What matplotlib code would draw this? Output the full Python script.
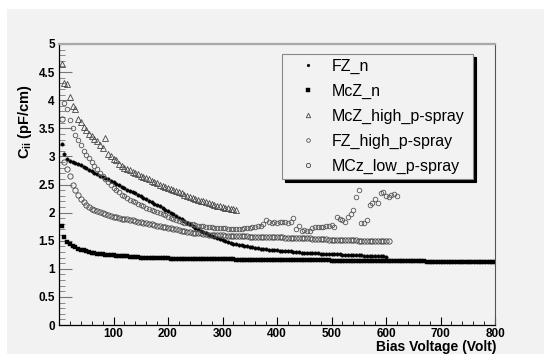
import numpy as np
import matplotlib.pyplot as plt
from matplotlib.patches import Rectangle
from matplotlib.ticker import MultipleLocator, FixedLocator, FormatStrFormatter

plt.rcParams['font.family'] = ['Liberation Sans', 'DejaVu Sans']
plt.rcParams['mathtext.fontset'] = 'custom'
plt.rcParams['mathtext.rm'] = 'Liberation Sans:bold'
plt.rcParams['mathtext.bf'] = 'Liberation Sans:bold'

# bias voltage sweeps (V)
v_fz_n = np.arange(5, 605, 5)
v_mcz_n = np.arange(5, 805, 5)
v_mcz_high = np.arange(5, 330, 5)
v_fz_high = np.arange(10, 625, 5)
v_mcz_low = np.arange(5, 610, 5)

# interstrip capacitance (pF/cm)
c_fz_n = [3.22, 3.05, 2.96, 2.92, 2.90, 2.88, 2.86, 2.84, 2.81, 2.79,
          2.76, 2.74, 2.71, 2.69, 2.66, 2.64, 2.61, 2.59, 2.56, 2.54,
          2.51, 2.49, 2.46, 2.44, 2.41, 2.39, 2.36, 2.34, 2.31, 2.29,
          2.26, 2.24, 2.21, 2.19, 2.16, 2.14, 2.11, 2.08, 2.05, 2.03,
          2.00, 1.97, 1.94, 1.91, 1.88, 1.85, 1.82, 1.79, 1.76, 1.73,
          1.71, 1.68, 1.65, 1.63, 1.61, 1.59, 1.57, 1.55, 1.53, 1.51,
          1.49, 1.48, 1.46, 1.45, 1.44, 1.43, 1.42, 1.41, 1.40, 1.39,
          1.38, 1.37, 1.37, 1.36, 1.35, 1.35, 1.34, 1.34, 1.33, 1.33,
          1.32, 1.32, 1.32, 1.31, 1.31, 1.30, 1.30, 1.30, 1.29, 1.29,
          1.29, 1.28, 1.28, 1.28, 1.28, 1.27, 1.27, 1.27, 1.27, 1.26,
          1.26, 1.26, 1.26, 1.25, 1.25, 1.25, 1.25, 1.24, 1.24, 1.24,
          1.24, 1.23, 1.23, 1.23, 1.23, 1.22, 1.22, 1.22, 1.22, 1.21]

c_mcz_n = [1.76, 1.56, 1.48, 1.44, 1.40, 1.38, 1.36, 1.34, 1.33, 1.31,
           1.30, 1.29, 1.28, 1.27, 1.27, 1.26, 1.25, 1.25, 1.24, 1.24,
           1.23, 1.23, 1.22, 1.22, 1.22, 1.21, 1.21, 1.21, 1.21, 1.20,
           1.20, 1.20, 1.20, 1.19, 1.19, 1.19, 1.19, 1.19, 1.19, 1.19,
           1.18, 1.18, 1.18, 1.18, 1.18, 1.18, 1.18, 1.18, 1.18, 1.18,
           1.18, 1.17, 1.17, 1.17, 1.17, 1.17, 1.17, 1.17, 1.17, 1.17,
           1.17, 1.17, 1.17, 1.17, 1.16, 1.16, 1.16, 1.16, 1.16, 1.16,
           1.16, 1.16, 1.16, 1.16, 1.16, 1.16, 1.16, 1.16, 1.16, 1.16,
           1.16, 1.15, 1.15, 1.15, 1.15, 1.15, 1.15, 1.15, 1.15, 1.15,
           1.15, 1.15, 1.15, 1.15, 1.15, 1.15, 1.15, 1.15, 1.15, 1.14,
           1.14, 1.14, 1.14, 1.14, 1.14, 1.14, 1.14, 1.14, 1.14, 1.14,
           1.14, 1.14, 1.14, 1.14, 1.14, 1.14, 1.14, 1.13, 1.13, 1.13,
           1.13, 1.13, 1.13, 1.13, 1.13, 1.13, 1.13, 1.13, 1.13, 1.13,
           1.13, 1.13, 1.13, 1.13, 1.12, 1.12, 1.12, 1.12, 1.12, 1.12,
           1.12, 1.12, 1.12, 1.12, 1.12, 1.12, 1.12, 1.12, 1.12, 1.12,
           1.12, 1.12, 1.12, 1.12, 1.12, 1.12, 1.12, 1.12, 1.12, 1.12]

c_mcz_high = [4.64, 4.30, 4.28, 4.06, 3.90, 3.84, 3.66, 3.62, 3.52, 3.47,
              3.40, 3.36, 3.31, 3.27, 3.21, 3.15, 3.33, 3.05, 3.00, 2.96,
              2.93, 2.87, 2.83, 2.80, 2.77, 2.75, 2.72, 2.70, 2.68, 2.66,
              2.63, 2.61, 2.59, 2.57, 2.55, 2.52, 2.50, 2.48, 2.46, 2.44,
              2.42, 2.40, 2.38, 2.36, 2.34, 2.32, 2.30, 2.28, 2.26, 2.24,
              2.23, 2.21, 2.20, 2.18, 2.17, 2.15, 2.14, 2.12, 2.11, 2.10,
              2.09, 2.08, 2.07, 2.06, 2.05]

c_fz_high = [3.95, 3.85, 3.65, 3.50, 3.38, 3.29, 3.20, 3.10, 3.03, 2.97,
             2.90, 2.83, 2.77, 2.71, 2.65, 2.59, 2.54, 2.49, 2.44, 2.40,
             2.36, 2.32, 2.29, 2.26, 2.23, 2.20, 2.18, 2.16, 2.13, 2.11,
             2.09, 2.07, 2.05, 2.03, 2.01, 1.99, 1.97, 1.95, 1.93, 1.91,
             1.89, 1.87, 1.85, 1.84, 1.82, 1.81, 1.80, 1.79, 1.78, 1.77,
             1.76, 1.76, 1.75, 1.74, 1.74, 1.73, 1.73, 1.72, 1.72, 1.72,
             1.71, 1.71, 1.71, 1.71, 1.71, 1.71, 1.72, 1.73, 1.73, 1.74,
             1.75, 1.76, 1.77, 1.80, 1.86, 1.83, 1.81, 1.84, 1.82, 1.84,
             1.83, 1.84, 1.82, 1.84, 1.90, 1.70, 1.76, 1.68, 1.69, 1.67,
             1.68, 1.72, 1.74, 1.74, 1.75, 1.74, 1.76, 1.77, 1.78, 1.75,
             1.93, 1.89, 1.86, 1.84, 1.93, 1.98, 2.05, 2.28, 2.40, 1.81,
             1.82, 1.86, 2.14, 2.17, 2.25, 2.17, 2.34, 2.37, 2.30, 2.28,
             2.31, 2.33, 2.30]

c_mcz_low = [3.66, 2.90, 2.78, 2.65, 2.50, 2.40, 2.31, 2.24, 2.18, 2.14,
             2.10, 2.07, 2.05, 2.03, 2.01, 1.99, 1.97, 1.96, 1.94, 1.93,
             1.92, 1.91, 1.89, 1.89, 1.88, 1.87, 1.86, 1.85, 1.84, 1.83,
             1.82, 1.81, 1.80, 1.79, 1.78, 1.77, 1.76, 1.75, 1.74, 1.73,
             1.72, 1.71, 1.70, 1.69, 1.68, 1.67, 1.66, 1.65, 1.64, 1.64,
             1.63, 1.63, 1.62, 1.62, 1.61, 1.61, 1.61, 1.60, 1.60, 1.60,
             1.59, 1.59, 1.59, 1.59, 1.58, 1.58, 1.58, 1.58, 1.58, 1.57,
             1.57, 1.57, 1.57, 1.57, 1.57, 1.56, 1.56, 1.56, 1.56, 1.56,
             1.56, 1.56, 1.55, 1.55, 1.55, 1.55, 1.55, 1.54, 1.54, 1.54,
             1.54, 1.54, 1.53, 1.53, 1.53, 1.53, 1.53, 1.53, 1.52, 1.52,
             1.52, 1.52, 1.52, 1.51, 1.51, 1.51, 1.51, 1.51, 1.51, 1.50,
             1.50, 1.50, 1.50, 1.50, 1.50, 1.50, 1.50, 1.50, 1.50, 1.50,
             1.50]

bg = '#f2f2f2'
fig = plt.figure(figsize=(5.44, 3.54), dpi=100, facecolor='white')
fig.patches.append(Rectangle((7 / 544, 0), 1, 1 - 9 / 354, transform=fig.transFigure,
                             facecolor=bg, edgecolor='none', zorder=-10))
ax = fig.add_axes([59 / 544, 29 / 354, 436 / 544, 281 / 354])
ax.set_facecolor(bg)

ax.plot(v_fz_n, c_fz_n, ls='none', marker='o', ms=2.5, mfc='black', mec='black',
        mew=0.3, label='FZ_n')
ax.plot(v_mcz_n, c_mcz_n, ls='none', marker='s', ms=3.5, mfc='black', mec='black',
        mew=0.3, label='McZ_n')
ax.plot(v_mcz_high, c_mcz_high, ls='none', marker='^', ms=4.0, mfc='none', mec='#444444',
        mew=0.6, label='McZ_high_p-spray')
ax.plot(v_fz_high, c_fz_high, ls='none', marker='o', ms=3.3, mfc='none', mec='#555555',
        mew=0.6, label='FZ_high_p-spray')
ax.plot(v_mcz_low, c_mcz_low, ls='none', marker='o', ms=3.8, mfc='none', mec='#444444',
        mew=0.6, label='MCz_low_p-spray')

ax.set_xlim(0, 800)
ax.set_ylim(0, 5)
ax.xaxis.set_major_locator(FixedLocator([100, 200, 300, 400, 500, 600, 700, 800]))
ax.xaxis.set_minor_locator(MultipleLocator(20))
ax.yaxis.set_major_locator(MultipleLocator(0.5))
ax.yaxis.set_minor_locator(MultipleLocator(0.1))
ax.yaxis.set_major_formatter(FormatStrFormatter('%g'))
ax.tick_params(axis='x', which='major', direction='in', length=5.8, width=0.8, pad=2,
               labelsize=8.5)
ax.tick_params(axis='x', which='minor', direction='in', length=2.9, width=0.6)
ax.tick_params(axis='y', which='major', direction='in', length=9, width=0.8, pad=3,
               labelsize=8.5, color='#777777')
ax.tick_params(axis='y', which='minor', direction='in', length=4.5, width=0.6,
               color='#777777')
for lab in ax.get_xticklabels() + ax.get_yticklabels():
    lab.set_fontweight('bold')

ax.spines['top'].set_color('#a8a8a8')
ax.spines['top'].set_linewidth(1.6)
ax.spines['right'].set_color('#555555')
ax.spines['right'].set_linewidth(0.8)
ax.spines['left'].set_linewidth(0.9)
ax.spines['bottom'].set_linewidth(0.9)

fig.text(497 / 544, 1 - 347 / 354, 'Bias Voltage (Volt)', ha='right', va='center',
         fontsize=10, fontweight='bold')
fig.text(25 / 544, 1 - 122 / 354, r'C$_{\mathbf{ii}}$ (pF/cm)', ha='center', va='center',
         rotation=90, fontsize=10.5, fontweight='bold')

leg = ax.legend(loc='upper left', bbox_to_anchor=(0.511, 0.512, 0.439, 0.452),
                mode='expand', fontsize=11.5, frameon=True, fancybox=False,
                shadow={'color': 'black', 'alpha': 1.0}, borderpad=0.3,
                handlelength=2.7, handletextpad=0.1, labelspacing=0.62,
                markerscale=0.8, borderaxespad=0)
leg.get_frame().set_facecolor(bg)
leg.get_frame().set_edgecolor('#888888')
leg.get_frame().set_linewidth(0.8)

fig.savefig('out.png', dpi=100, facecolor=fig.get_facecolor())
